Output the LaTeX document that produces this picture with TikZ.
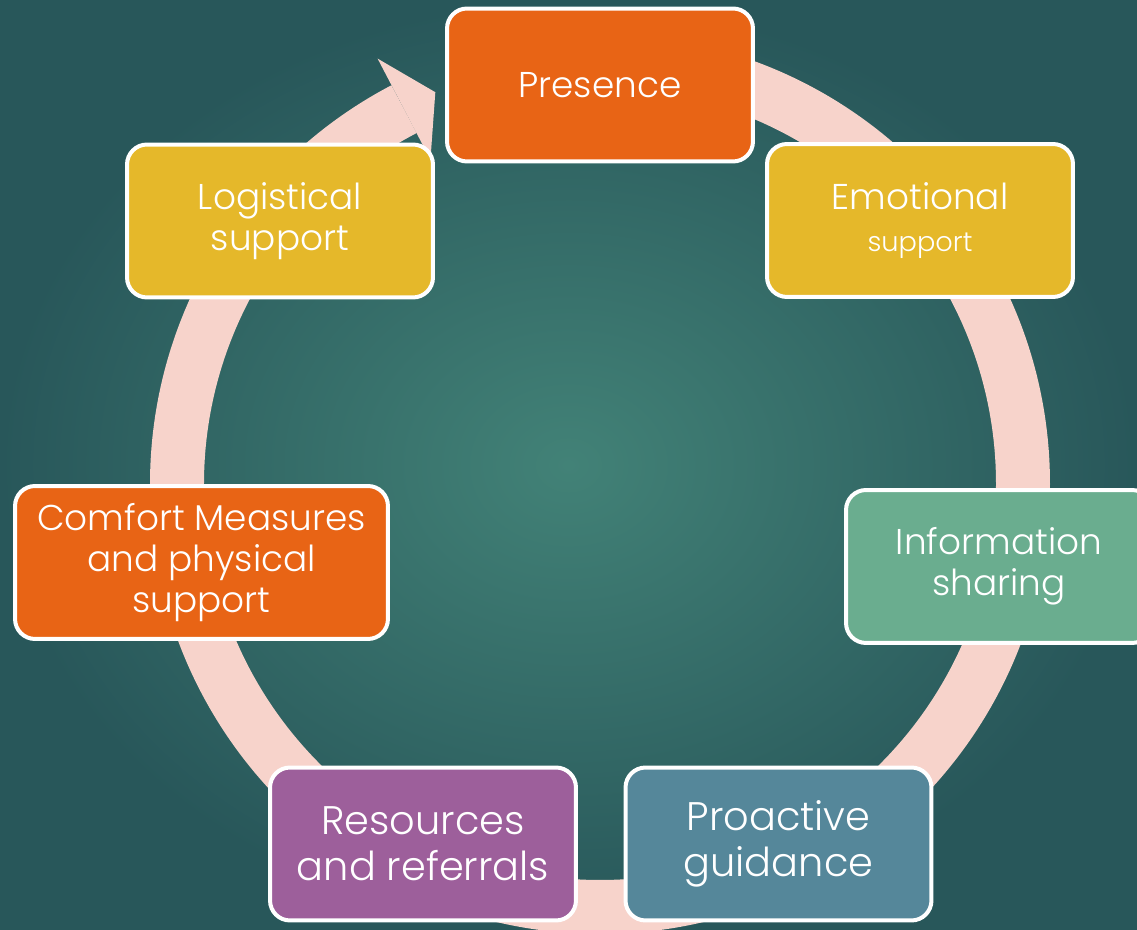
\documentclass[tikz,border=0pt]{standalone}
\usepackage{fontspec}
\setmainfont{Poppins}[UprightFont=* Light]

\definecolor{bginner}{HTML}{428277}
\definecolor{bgouter}{HTML}{28575A}
\definecolor{ringpink}{HTML}{F7D3CB}
\definecolor{orangebox}{HTML}{E86415}
\definecolor{yellowbox}{HTML}{E5B82A}
\definecolor{greenbox}{HTML}{6AAD8F}
\definecolor{bluebox}{HTML}{55879A}
\definecolor{purplebox}{HTML}{9D5F9B}

\begin{document}
\begin{tikzpicture}[x=0.02cm, y=0.02cm,
    stage/.style={draw=white, line width=0.08cm, rounded corners=0.4cm,
      text=white, align=center, inner sep=0pt,
      minimum width=6.12cm, minimum height=3.06cm,
      font=\fontsize{20.4}{23.5}\selectfont},
    ring/.style={draw=ringpink, line width=1.08cm}]
    \useasboundingbox (0, 0) rectangle (1137, 930);
    \shade [inner color=bginner, outer color=bgouter] (0, 0) rectangle (1137, 930);

    \coordinate (hub) at (600, 446);
    \draw [ring] (hub) ++(90:423) arc [start angle=90, end angle=-242.4, radius=423];
    \fill [ringpink] (hub) +(117.6:480) -- +(112.8:425) -- +(117.6:366) -- cycle;

    \node [stage, fill=orangebox] (presence) at (600, 845) {Presence};
    \node [stage, fill=yellowbox] (emotional) at (920, 709.5) {
        Emotional\\{\fontsize{15.5}{18}\selectfont support}
    };
    \node [stage, fill=greenbox] (sharing) at (999, 363.5) {
        Information\\sharing
    };
    \node [stage, fill=bluebox, font=\fontsize{22.7}{26}\selectfont]
      (guidance) at (778.5, 86) {Proactive\\guidance};
    \node [stage, fill=purplebox, font=\fontsize{22.7}{26}\selectfont]
      (referrals) at (423, 86) {Resources\\and referrals};
    \node [stage, fill=orangebox, minimum width=7.46cm] (comfort) at (201.5, 367.5) {
        Comfort Measures\\and physical\\support
    };
    \node [stage, fill=yellowbox] (logistics) at (280, 709) {
        Logistical\\support
    };
  \end{tikzpicture}
\end{document}
